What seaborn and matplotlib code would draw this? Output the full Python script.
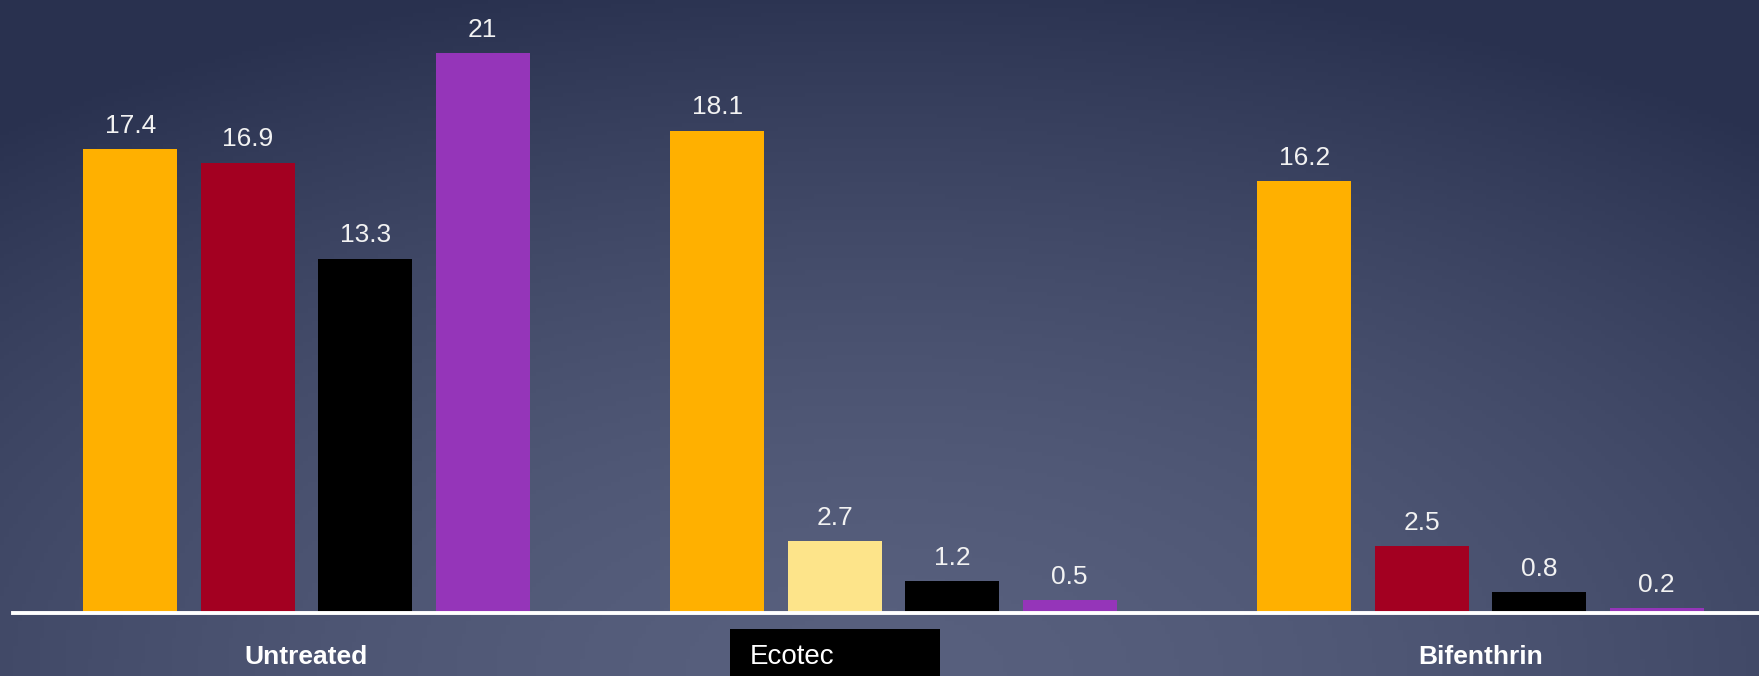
import numpy as np
import pandas as pd
import matplotlib
matplotlib.use("Agg")
import matplotlib.pyplot as plt
import seaborn as sns
from matplotlib.patches import Rectangle

# data
treatments = ["Untreated", "Ecotec", "Bifenthrin"]
series = ["Series 1", "Series 2", "Series 3", "Series 4"]
s1 = [17.4, 18.1, 16.2]
s2 = [16.9, 2.7, 2.5]
s3 = [13.3, 1.2, 0.8]
s4 = [21, 0.5, 0.2]

colors = ["#FFB000", "#A30021", "#000000", "#9535B9"]
ecotec_s2_color = "#FDE48A"

rows = []
for name, vals in zip(series, [s1, s2, s3, s4]):
    for t, v in zip(treatments, vals):
        rows.append({"treatment": t, "series": name, "value": v})
df = pd.DataFrame(rows)

sns.set_style("white")
plt.rcParams["font.family"] = ["Liberation Sans", "DejaVu Sans"]

W, H = 1759, 676
fig = plt.figure(figsize=(W / 100, H / 100), dpi=100)

# background: radial gradient, lighter at the bottom centre
bg = fig.add_axes([0, 0, 1, 1], zorder=-10)
xx, yy = np.meshgrid(np.linspace(0, 1, 400), np.linspace(0, 1, 160))
d = np.sqrt(((xx - 0.5) / 0.75) ** 2 + (1 - yy) ** 2)
t = np.clip(d, 0, 1.05) ** 1.6
c0 = np.array([88, 96, 126]) / 255
c1 = np.array([45, 53, 83]) / 255
img = c0[None, None, :] + (c1 - c0)[None, None, :] * t[..., None]
img = np.clip(img, 0, 1)
bg.imshow(img[::-1], aspect="auto", extent=[0, 1, 0, 1], origin="lower")
bg.axis("off")

ax = fig.add_axes([13 / W, 63 / H, 1 - 13 / W, 1 - 63 / H])
ax.set_facecolor("none")

sns.barplot(data=df, x="treatment", y="value", hue="series", order=treatments,
            hue_order=series, palette=colors, saturation=1, width=0.8, gap=0.2,
            legend=False, ax=ax, linewidth=0)

# the Ecotec bar of series 2 is light yellow
ax.containers[1][1].set_facecolor(ecotec_s2_color)

for cont in ax.containers:
    ax.bar_label(cont, fmt="%g", padding=8, color="#F2F2F2", fontsize=19)

# 587 px per category, first group centred at x=307 px
ax.set_xlim(-0.5, -0.5 + (W - 13) / 587)
ax.set_ylim(0, 23)
ax.set_xlabel("")
ax.set_ylabel("")
ax.set_yticks([])
for s in ["top", "left", "right"]:
    ax.spines[s].set_visible(False)
ax.spines["bottom"].set_color("white")
ax.spines["bottom"].set_linewidth(2.8)
ax.tick_params(axis="x", length=0, pad=23, labelsize=19, labelcolor="white")
for lab in ax.get_xticklabels():
    lab.set_fontweight("bold")

# black label box over the middle category
fig.patches.append(Rectangle((730 / W, 0), 210 / W, 47 / H, transform=fig.transFigure,
                             facecolor="black", edgecolor="none", zorder=5))
fig.text(750 / W, 19.5 / H, "Ecotec", color="white", fontsize=20, ha="left", va="center",
         zorder=6)

fig.savefig("out.png", dpi=100)
